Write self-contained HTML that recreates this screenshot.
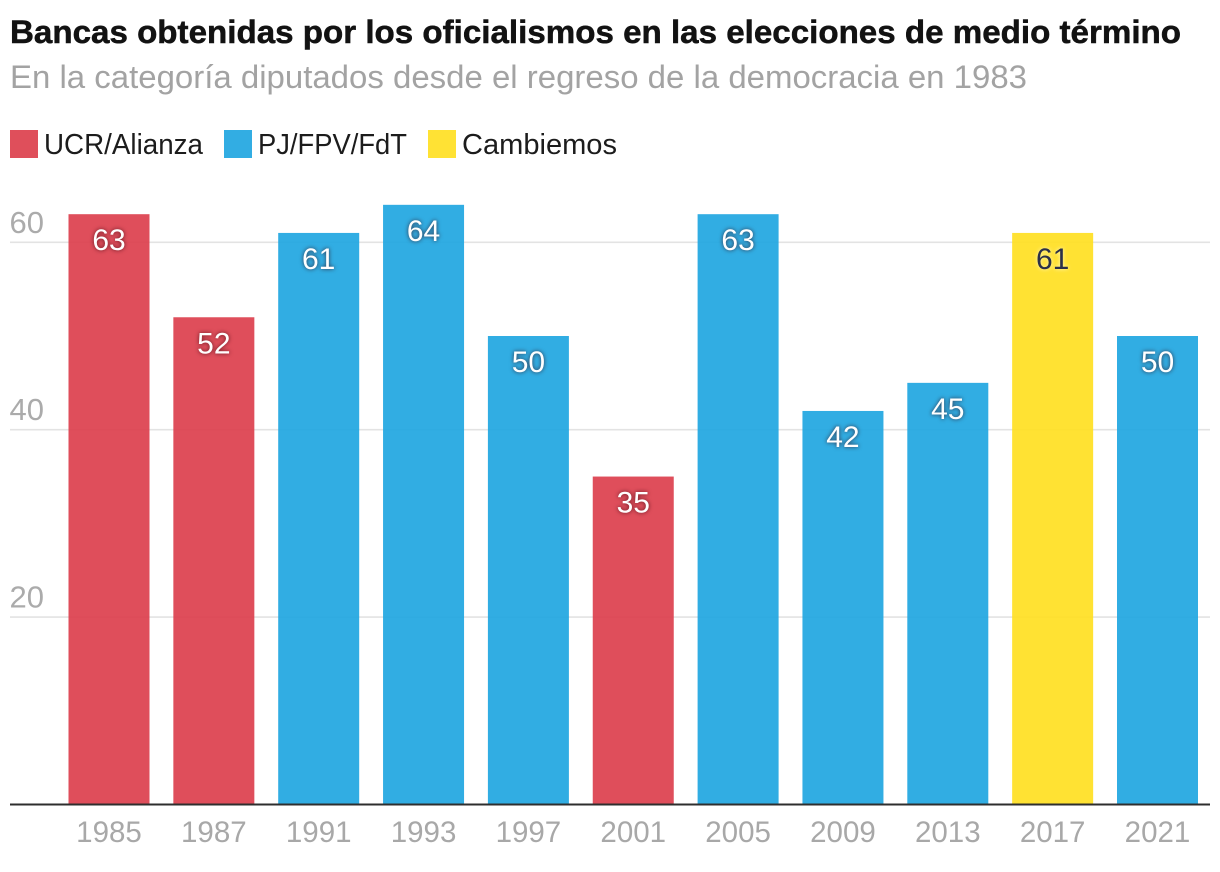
<!DOCTYPE html>
<html lang="es">
<head>
<meta charset="utf-8">
<title>Bancas obtenidas por los oficialismos</title>
<style>
html,body{margin:0;padding:0;background:#fff;width:1220px;height:872px;overflow:hidden;}
svg{display:block;font-family:"Liberation Sans",sans-serif;}
.halo-dark{filter:drop-shadow(0 0 2px rgba(50,0,10,.75));}
.halo-light{filter:drop-shadow(0 0 2px rgba(255,255,230,.8));}
</style>
</head>
<body>
<svg id="chart" width="1220" height="872" viewBox="0 0 1220 872" xmlns="http://www.w3.org/2000/svg">
<text x="10" y="43" font-size="32" font-weight="700" fill="#121212" stroke="#121212" stroke-width="0.5" textLength="1171" lengthAdjust="spacingAndGlyphs">Bancas obtenidas por los oficialismos en las elecciones de medio término</text>
<text x="10" y="88" font-size="32" fill="#a3a3a3" textLength="1017" lengthAdjust="spacingAndGlyphs">En la categoría diputados desde el regreso de la democracia en 1983</text>
<g>
<rect x="10" y="130" width="28" height="28" fill="#df4f5b"/>
<text x="44" y="154" font-size="29" fill="#1c1c1c" textLength="159" lengthAdjust="spacingAndGlyphs">UCR/Alianza</text>
<rect x="224" y="130" width="28" height="28" fill="#32ade3"/>
<text x="258" y="154" font-size="29" fill="#1c1c1c" textLength="149" lengthAdjust="spacingAndGlyphs">PJ/FPV/FdT</text>
<rect x="428" y="130" width="28" height="28" fill="#ffe234"/>
<text x="462" y="154" font-size="29" fill="#1c1c1c" textLength="155" lengthAdjust="spacingAndGlyphs">Cambiemos</text>
</g>
<g id="grid"></g>
<g id="bars"></g>
<g id="xaxis"></g>
</svg>
<script>
const categories = ['1985','1987','1991','1993','1997','2001','2005','2009','2013','2017','2021'];
const seats = [63,52,61,64,50,35,63,42,45,61,50];
const parties = ['ucr','ucr','pj','pj','pj','ucr','pj','pj','pj','cambiemos','pj'];
const yTicks = [20,40,60];

const partyColor = {ucr:'#db3b49', pj:'#1ba4e0', cambiemos:'#ffdf1d'};
const NS = 'http://www.w3.org/2000/svg';
const y0 = 804.5, pxPerUnit = 9.37;
const x0 = 109, step = 104.85, barW = 81;
const yScale = v => y0 - v * pxPerUnit;
const xScale = i => x0 + i * step;

function make(tag, attrs, text){
  const el = document.createElementNS(NS, tag);
  for (const k in attrs) el.setAttribute(k, attrs[k]);
  if (text !== undefined) el.textContent = text;
  return el;
}
const grid = document.getElementById('grid');
const bars = document.getElementById('bars');
const xaxis = document.getElementById('xaxis');

yTicks.forEach(t => {
  const line = make('line', {x1:10, x2:1210, y1:yScale(t), y2:yScale(t), stroke:'#e3e3e3', 'stroke-width':1.6});
  
  
  grid.appendChild(line);
  const label = make('text', {x:9.5, y:yScale(t) - 9.5, 'font-size':31, fill:'#ababab'}, String(t));
  
  
  grid.appendChild(label);
});

categories.forEach((c, i) => {
  const v = seats[i], cx = xScale(i), party = parties[i];
  const bar = make('rect', {x:cx - barW / 2, y:yScale(v), width:barW, height:y0 - yScale(v), fill:partyColor[party], 'fill-opacity':0.9});
  
  
  bars.appendChild(bar);
  const value = make('text', {x:cx, y:yScale(v) + 36, 'font-size':30, 'text-anchor':'middle', fill:party === 'cambiemos' ? '#2b3048' : '#fff', class:party === 'cambiemos' ? 'halo-light' : 'halo-dark'}, String(v));
  
  
  bars.appendChild(value);
  const tick = make('text', {x:cx, y:842, 'font-size':29.5, 'text-anchor':'middle', fill:'#a8a8a8'}, c);
  
  
  xaxis.appendChild(tick);
});

const axis = make('line', {x1:10, x2:1210, y1:y0, y2:y0, stroke:'#2e2e2e', 'stroke-width':2});


xaxis.appendChild(axis);
</script>
</body>
</html>
